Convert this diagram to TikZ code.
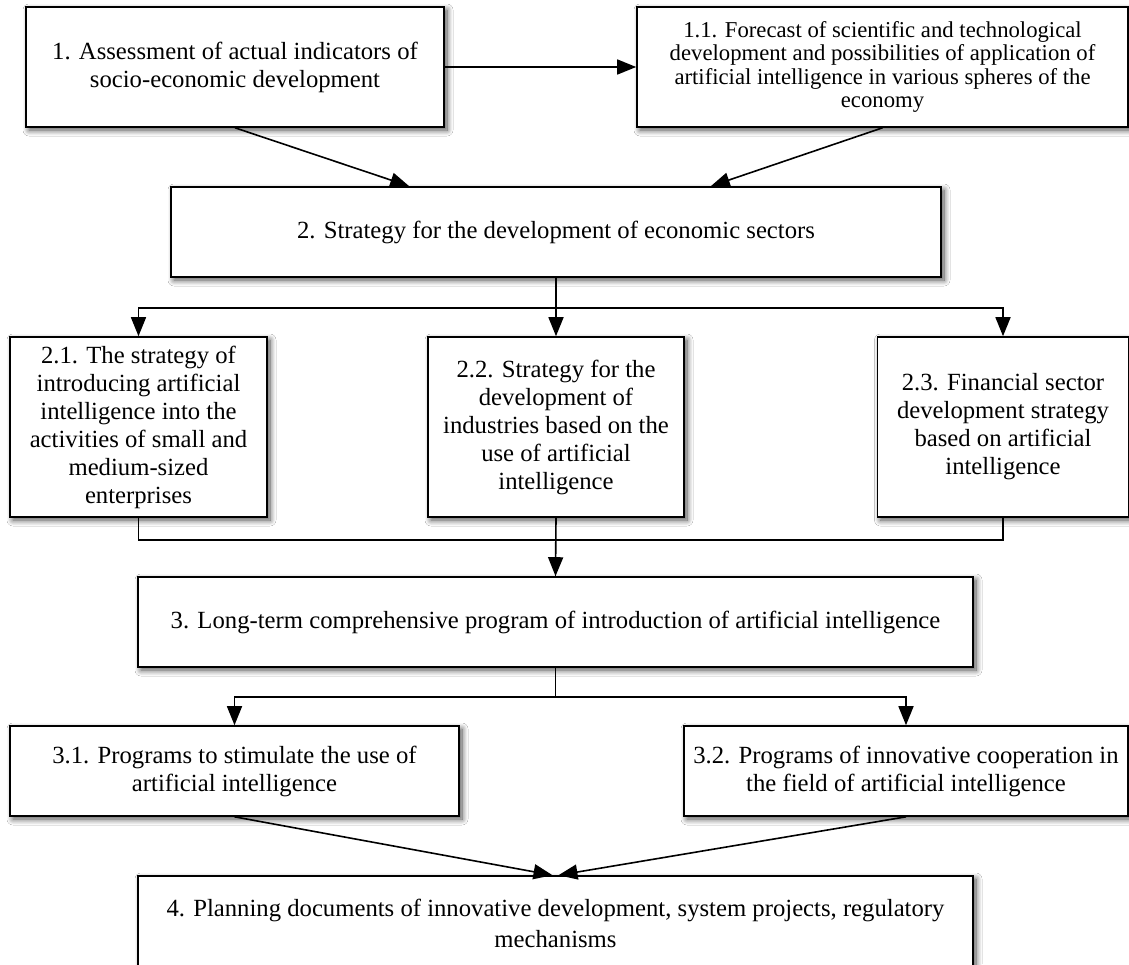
\documentclass[tikz,border=0pt]{standalone}
\usepackage{fontspec}
\setmainfont{Liberation Serif}
\usetikzlibrary{arrows.meta,shadows,shadows.blur,calc}
\begin{document}
\begin{tikzpicture}[x=1pt,y=-1pt,
  box/.style={draw=black, line width=1.6pt, fill=white, rectangle, inner sep=0pt, align=center,
    font=\fontsize{24.7}{28}\selectfont,
    blur shadow={shadow xshift=3pt, shadow yshift=-3pt, shadow blur radius=6pt, shadow blur steps=10, shadow opacity=70}},
  small/.style={font=\fontsize{22.7}{23.5}\selectfont},
  conn/.style={draw=black, line width=1.6pt},
  arr/.style={conn, -{Triangle[length=19pt,width=15pt]}}]
\useasboundingbox (0,0) rectangle (1129,964);
\fill[white] (0,0) rectangle (1129,964);

\node[box, minimum width=418pt, minimum height=120pt] (b1) at (235,67)
  {1. Assessment of actual indicators of\\socio-economic development};
\node[box, small, minimum width=491pt, minimum height=120pt] (b11) at (882.5,67)
  {1.1. Forecast of scientific and technological\\development and possibilities of application of\\artificial intelligence in various spheres of the\\economy};
\node[box, minimum width=770pt, minimum height=90pt] (b2) at (556,232)
  {2. Strategy for the development of economic sectors};
\node[box, minimum width=257pt, minimum height=180pt] (b21) at (138.5,427)
  {2.1. The strategy of\\introducing artificial\\intelligence into the\\activities of small and\\medium-sized\\enterprises};
\node[box, minimum width=256pt, minimum height=180pt] (b22) at (556,427)
  {2.2. Strategy for the\\development of\\industries based on the\\use of artificial\\intelligence};
\node[box, minimum width=251pt, minimum height=180pt] (b23) at (1003,427)
  {2.3. Financial sector\\development strategy\\based on artificial\\intelligence};
\node[box, minimum width=835pt, minimum height=90pt] (b3) at (555.5,622)
  {3. Long-term comprehensive program of introduction of artificial intelligence};
\node[box, minimum width=449pt, minimum height=90pt] (b31) at (234.5,771)
  {3.1. Programs to stimulate the use of\\artificial intelligence};
\node[box, minimum width=444pt, minimum height=90pt] (b32) at (906,771)
  {3.2. Programs of innovative cooperation in\\the field of artificial intelligence};
\node[box, font=\fontsize{24.7}{31}\selectfont, minimum width=835pt, minimum height=95pt] (b4) at (555.5,923.5)
  {4. Planning documents of innovative development, system projects, regulatory\\mechanisms};

% level 1 -> 2
\draw[arr] (b1.east) -- (b11.west);
\draw[arr] (b1.south) -- ([xshift=239pt]b2.north west);
\draw[arr] (b11.south) -- ([xshift=-231pt]b2.north east);

% level 2 -> 2.x
\draw[arr] (b2.south) -- (b22.north);
\draw[arr] (b2.south) -- ++(0,30) -| (b21.north);
\draw[arr] (b2.south) -- ++(0,30) -| (b23.north);

% 2.x -> 3
\draw[arr] (b22.south) -- (b3.north);
\draw[conn] (b21.south) -- ++(0,22) -| (b3.north);
\draw[conn] (b23.south) -- ++(0,22) -| (b3.north);

% 3 -> 3.x
\draw[arr] (b3.south) -- ++(0,29) -| (b31.north);
\draw[arr] (b3.south) -- ++(0,29) -| (b32.north);

% 3.x -> 4
\draw[arr] (b31.south) -- ([xshift=-3pt]b4.north);
\draw[arr] (b32.south) -- ([xshift=3pt]b4.north);
\end{tikzpicture}
\end{document}
